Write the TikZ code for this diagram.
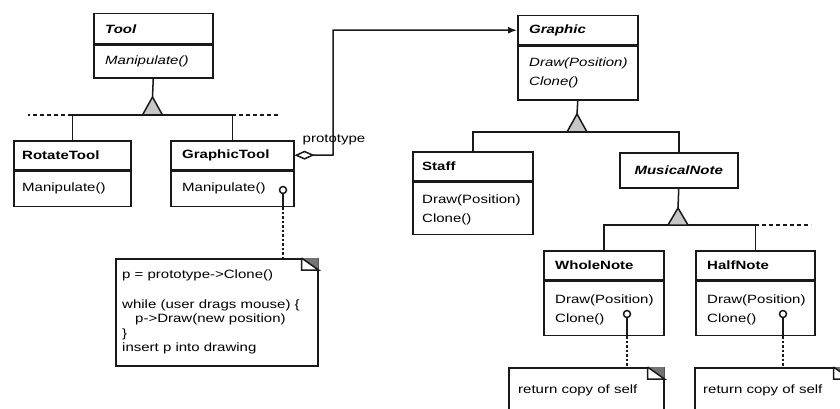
\documentclass[tikz,border=0pt]{standalone}
\usepackage{fontspec}
\setmainfont{Liberation Sans}[FakeStretch=1.25]
\usetikzlibrary{arrows.meta}

\tikzset{
  ink/.style={line width=1.5pt, draw=black!90},
  box/.style={ink, anchor=north west, inner sep=0pt},
  txt/.style={anchor=west, inner sep=0pt, font=\fontsize{12}{14.6}\selectfont},
  cname/.style={txt, font=\fontsize{12}{14.6}\selectfont\bfseries},
  aname/.style={txt, font=\fontsize{12}{14.6}\selectfont\bfseries\itshape},
  ops/.style={txt, align=left, font=\fontsize{12}{19}\selectfont},
  aops/.style={txt, align=left, font=\fontsize{12}{19}\selectfont\itshape},
  inhtri/.style={ink, fill=black!22, line join=miter},
  hier/.style={ink},
  more/.style={ink, dash pattern=on 4pt off 3pt},
  lolly/.style={circle, ink, fill=white, inner sep=0pt, minimum size=7pt},
  notelink/.style={ink, dash pattern=on 2.5pt off 2pt},
  notetext/.style={anchor=north west, inner sep=0pt, align=left, font=\fontsize{12}{14.6}\selectfont},
}

% folded corner of a note box
\newcommand\noteear[1]{%
  \fill[black!55] ([shift={(-17,0)}]#1.north east) -- (#1.north east)
        -- ([shift={(0,12)}]#1.north east) -- cycle;
  \draw[ink, line join=miter] ([shift={(-17,0)}]#1.north east) -- ++(0,12)
        -- ([shift={(0,12)}]#1.north east) -- ([shift={(-17,0)}]#1.north east);
}

\begin{document}
\begin{tikzpicture}[x=1pt, y=-1pt]
\useasboundingbox (0,0) rectangle (840,409);
\fill[white] (0,0) rectangle (840,409);
\clip (0,0) rectangle (840,409);

% ---------- Tool hierarchy ----------
\node[box, minimum width=119pt, minimum height=30pt] (tool) at (93,13) {};
\node[box, anchor=north, minimum width=119pt, minimum height=33pt] (toolops) at (tool.south) {};
\node[aname] (tooltxt) at ([xshift=12pt]tool.west) {Tool};
\node[aops] (toolopstxt) at ([xshift=12pt]toolops.west) {Manipulate()};

\node[box, minimum width=117pt, minimum height=29pt] (rot) at (13,140) {};
\node[box, anchor=north, minimum width=117pt, minimum height=35pt] (rotops) at (rot.south) {};
\node[cname] (rottxt) at ([xshift=9pt]rot.west) {RotateTool};
\node[ops] (rotopstxt) at ([xshift=9pt]rotops.west) {Manipulate()};

\node[box, minimum width=123pt, minimum height=29pt] (gt) at (170,140) {};
\node[box, anchor=north, minimum width=123pt, minimum height=35pt] (gtops) at (gt.south) {};
\node[cname] (gttxt) at ([xshift=12pt]gt.west) {GraphicTool};
\node[ops] (gtopstxt) at ([xshift=12pt]gtops.west) {Manipulate()};

\coordinate (t1base) at (152.5,115);
\coordinate (t1apex) at (152.5,97);
\draw[hier] (toolops.south) -- (t1apex);
\draw[hier] (rot.north) |- (t1base) -| (gt.north);
\draw[more] (rot.north |- t1base) -- ++(-44,0);
\draw[more] (gt.north |- t1base) -- ++(48,0);
\draw[inhtri] (t1apex) -- ++(-10,18) -- ++(20,0) -- cycle;

% ---------- Graphic hierarchy ----------
\node[box, minimum width=120pt, minimum height=29pt] (gr) at (517,15) {};
\node[box, anchor=north, minimum width=120pt, minimum height=54pt] (grops) at (gr.south) {};
\node[aname] (grtxt) at ([xshift=12pt]gr.west) {Graphic};
\node[aops] (gropstxt) at ([xshift=12pt]grops.west) {Draw(Position)\\Clone()};

\node[box, minimum width=120pt, minimum height=29pt] (staff) at (412,151) {};
\node[box, anchor=north, minimum width=120pt, minimum height=52pt] (staffops) at (staff.south) {};
\node[cname] (stafftxt) at ([xshift=10pt]staff.west) {Staff};
\node[ops] (staffopstxt) at ([shift={(10,2)}]staffops.west) {Draw(Position)\\Clone()};

\node[box, minimum width=118pt, minimum height=35pt] (mn) at (619,152) {};
\node[aname, anchor=center] (mntxt) at (mn.center) {MusicalNote};

\coordinate (t2base) at (577,132);
\coordinate (t2apex) at (577,114);
\draw[hier] (grops.south) -- (t2apex);
\draw[hier] (staff.north) |- (t2base) -| (mn.north);
\draw[inhtri] (t2apex) -- ++(-10,18) -- ++(20,0) -- cycle;

\node[box, minimum width=120pt, minimum height=29pt] (wn) at (543,250) {};
\node[box, anchor=north, minimum width=120pt, minimum height=54pt] (wnops) at (wn.south) {};
\node[cname] (wntxt) at ([xshift=12pt]wn.west) {WholeNote};
\node[ops] (wnopstxt) at ([shift={(12,2)}]wnops.west) {Draw(Position)\\Clone()};

\node[box, minimum width=119pt, minimum height=29pt] (hn) at (695,250) {};
\node[box, anchor=north, minimum width=119pt, minimum height=54pt] (hnops) at (hn.south) {};
\node[cname] (hntxt) at ([xshift=12pt]hn.west) {HalfNote};
\node[ops] (hnopstxt) at ([shift={(12,2)}]hnops.west) {Draw(Position)\\Clone()};

\coordinate (t3base) at (678,225);
\coordinate (t3apex) at (678,208);
\draw[hier] (mn.south) -- (t3apex);
\draw[hier] (wn.north) |- (t3base) -| (hn.north);
\draw[more] (hn.north |- t3base) -- ++(56,0);
\draw[inhtri] (t3apex) -- ++(-10,17) -- ++(20,0) -- cycle;

% ---------- prototype aggregation ----------
\coordinate (aggbend) at (333,155);
\draw[ink, {Diamond[open, length=20pt, width=9pt]}-{Latex[length=9pt, width=7pt]}]
  (gt.east) -- (aggbend) |- (gr.west);
\node[txt, anchor=center] (aggtxt) at (334,140) {prototype};

% ---------- implementation notes ----------
\node[box, minimum width=202pt, minimum height=107pt] (note1) at (115,258) {};
\noteear{note1}
\node[notetext] (note1txt) at (122,270) {p = prototype->Clone()\\[14.6pt]while (user drags mouse) \{\\\hspace*{13pt}p->Draw(new position)\\\}\\insert p into drawing};

\node[box, minimum width=155pt, minimum height=50pt] (note2) at (508,367) {};
\noteear{note2}
\node[txt] (note2txt) at (518,390) {return copy of self};

\node[box, minimum width=155pt, minimum height=50pt] (note3) at (694,367) {};
\noteear{note3}
\node[txt] (note3txt) at (703,390) {return copy of self};

\node[lolly] (lp1) at (283,190) {};
\draw[ink] (lp1.south) -- (lp1 |- gtops.south);
\draw[notelink] (lp1 |- gtops.south) -- (lp1 |- note1.north);

\node[lolly] (lp2) at (627,314) {};
\draw[ink] (lp2.south) -- (lp2 |- wnops.south);
\draw[notelink] (lp2 |- wnops.south) -- (lp2 |- note2.north);

\node[lolly] (lp3) at (783,314) {};
\draw[ink] (lp3.south) -- (lp3 |- hnops.south);
\draw[notelink] (lp3 |- hnops.south) -- (lp3 |- note3.north);
\end{tikzpicture}
\end{document}
